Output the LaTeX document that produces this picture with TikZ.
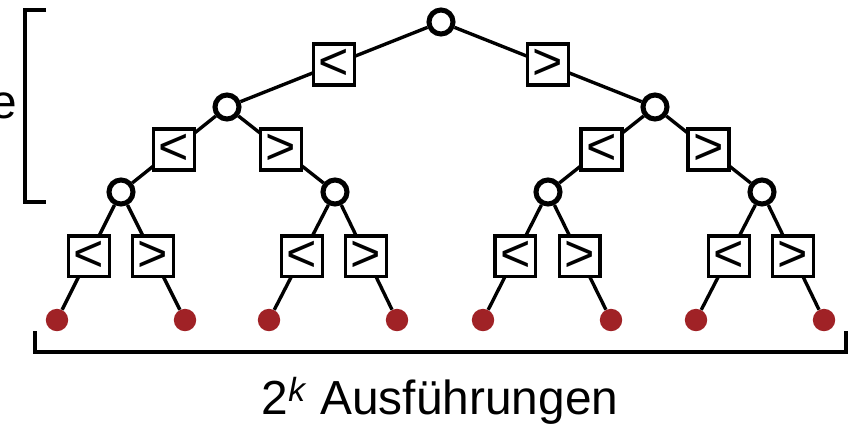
\documentclass[tikz,border=0pt]{standalone}
\usepackage{fontspec}
\setmainfont{Liberation Sans}
\definecolor{leafred}{RGB}{160,34,38}
\usetikzlibrary{positioning}

\begin{document}
\begin{tikzpicture}[x=0.025cm,y=-0.025cm,
  knot/.style={circle,draw,line width=3.6pt,fill=white,minimum size=0.6cm,inner sep=0pt},
  leaf/.style={circle,fill=leafred,minimum size=0.56cm,inner sep=0pt},
  cmp/.style={draw,fill=white,line width=2.4pt,minimum size=1.02cm,inner sep=0pt,
    font=\fontsize{37}{40}\selectfont},
  edge/.style={line width=2.4pt},
  bracket/.style={line width=2.4pt}
]
  \useasboundingbox (0,0) rectangle (856,424);
  % inner nodes
  \node[knot] (root) at (441,22) {};
  \node[knot] (a) at (227,107) {};
  \node[knot] (b) at (655,107) {};
  \node[knot] (aa) at (121,192) {};
  \node[knot] (ab) at (335,192) {};
  \node[knot] (ba) at (548,192) {};
  \node[knot] (bb) at (762,192) {};
  % leaves
  \node[leaf] (l1) at (57,320) {};
  \node[leaf] (l2) at (185,320) {};
  \node[leaf] (l3) at (269,320) {};
  \node[leaf] (l4) at (397,320) {};
  \node[leaf] (l5) at (483,320) {};
  \node[leaf] (l6) at (611,320) {};
  \node[leaf] (l7) at (696,320) {};
  \node[leaf] (l8) at (824,320) {};
  % comparisons
  \draw[edge] (root) -- node[cmp] (c0) {<} (a);
  \draw[edge] (root) -- node[cmp] (c1) {>} (b);
  \draw[edge] (a) -- node[cmp] (c00) {<} (aa);
  \draw[edge] (a) -- node[cmp] (c01) {>} (ab);
  \draw[edge] (b) -- node[cmp] (c10) {<} (ba);
  \draw[edge] (b) -- node[cmp] (c11) {>} (bb);
  \draw[edge] (aa) -- node[cmp,pos=0.49] (c000) {<} (l1);
  \draw[edge] (aa) -- node[cmp,pos=0.49] (c001) {>} (l2);
  \draw[edge] (ab) -- node[cmp,pos=0.49] (c010) {<} (l3);
  \draw[edge] (ab) -- node[cmp,pos=0.49] (c011) {>} (l4);
  \draw[edge] (ba) -- node[cmp,pos=0.49] (c100) {<} (l5);
  \draw[edge] (ba) -- node[cmp,pos=0.49] (c101) {>} (l6);
  \draw[edge] (bb) -- node[cmp,pos=0.49] (c110) {<} (l7);
  \draw[edge] (bb) -- node[cmp,pos=0.49] (c111) {>} (l8);
  % brackets
  \draw[bracket] (46,10) -- (25,10) -- (25,202) -- (46,202);
  \node[font=\fontsize{34}{40}\selectfont,anchor=base east,inner sep=0pt] (depth) at (17,118) {e};
  \draw[bracket] (35,331) -- (35,352) -- (846,352) -- (846,331);
  \node[font=\fontsize{34}{40}\selectfont,anchor=base] (count) at (440,414) {2\textsuperscript{\textit{k}} Ausführungen};
\end{tikzpicture}
\end{document}
